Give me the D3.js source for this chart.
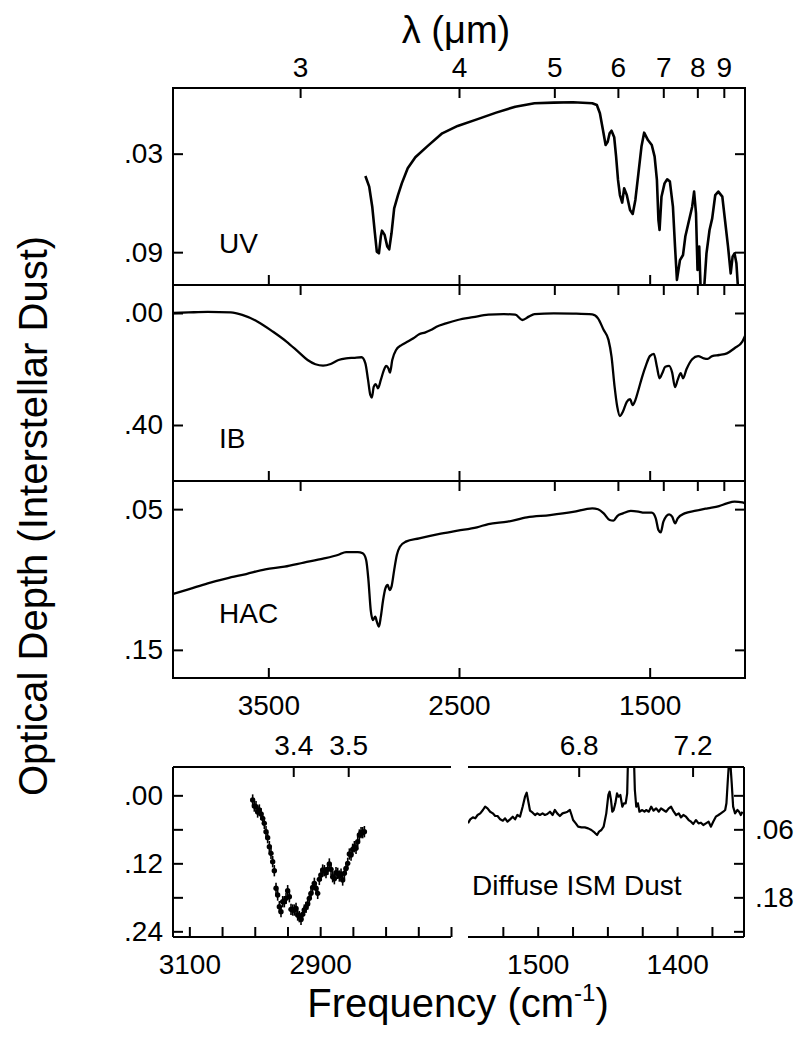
<!DOCTYPE html>
<html>
<head>
<meta charset="utf-8">
<script src="https://cdn.jsdelivr.net/npm/d3@7"></script>
<style>
body { margin:0; background:#fff; }
svg { font-family: "Liberation Sans", Arial, Helvetica, sans-serif; }
</style>
</head>
<body>
<svg id="graph"></svg>
<script>
// ---- data ----
var uvFreq = [2991,2971,2955,2941,2931,2920,2910,2904,2890,2876,2866,2854,2840,2820,2800,2769,2729,2668,2588,2507,2406,2305,2205,2104,2003,1902,1801,1777,1761,1745,1731,1720,1710,1700,1686,1676,1666,1656,1644,1634,1620,1603,1589,1575,1559,1543,1529,1509,1489,1474,1462,1454,1448,1438,1422,1408,1394,1378,1367,1357,1341,1325,1313,1297,1277,1267,1257,1249,1240,1232,1216,1202,1186,1172,1156,1140,1119,1105,1089,1075,1065,1055,1045,1035];
var uvDepth = [.0436,.0501,.0623,.0785,.0897,.0907,.0805,.0769,.0795,.0866,.0883,.0785,.0633,.0552,.0481,.0389,.0322,.0257,.0176,.0131,.0091,.0050,.0014,-.0007,-.0011,-.0013,-.0007,.0004,.0054,.0156,.0247,.0227,.0176,.0160,.0200,.0318,.0460,.0552,.0598,.0511,.0552,.0643,.0667,.0582,.0420,.0257,.0172,.0217,.0247,.0318,.0460,.0704,.0765,.0562,.0481,.0456,.0470,.0623,.0866,.1069,.0948,.0917,.0805,.0724,.0623,.0531,.0663,.1008,.0866,.1150,.1150,.0907,.0765,.0694,.0552,.0531,.0562,.0704,.0866,.1029,.0927,.0907,.0968,.1150];

var ibFreq = [4000,3919,3818,3697,3637,3556,3475,3405,3344,3294,3253,3213,3173,3132,3092,3052,3011,2991,2977,2965,2957,2947,2937,2925,2910,2894,2882,2870,2862,2850,2830,2800,2769,2739,2709,2679,2648,2618,2568,2507,2426,2346,2265,2205,2168,2134,2104,2003,1902,1801,1771,1741,1716,1700,1684,1670,1656,1640,1620,1603,1589,1575,1559,1539,1519,1499,1478,1462,1448,1434,1418,1398,1382,1367,1353,1337,1325,1307,1277,1246,1216,1196,1172,1136,1095,1055,1014,1000];
var ibDepth = [0.000,-0.002,-0.004,-0.002,0.007,0.031,0.067,0.102,0.138,0.168,0.183,0.188,0.182,0.168,0.162,0.160,0.158,0.180,0.239,0.293,0.302,0.263,0.254,0.269,0.239,0.204,0.189,0.198,0.213,0.168,0.132,0.114,0.102,0.090,0.076,0.070,0.061,0.049,0.037,0.025,0.015,0.006,0.004,0.006,0.025,0.013,0.004,0.001,0.002,0.005,0.019,0.061,0.096,0.156,0.263,0.335,0.368,0.352,0.317,0.308,0.329,0.311,0.275,0.227,0.186,0.154,0.146,0.192,0.233,0.215,0.192,0.189,0.213,0.265,0.239,0.215,0.233,0.201,0.165,0.154,0.162,0.164,0.154,0.150,0.144,0.126,0.102,0.082];

var hacFreq = [4000,3919,3818,3717,3616,3516,3415,3314,3213,3132,3092,3031,3005,2987,2975,2963,2951,2939,2931,2920,2910,2898,2886,2874,2864,2854,2840,2826,2810,2779,2709,2608,2507,2406,2346,2245,2144,2023,1902,1801,1771,1741,1710,1690,1670,1640,1599,1559,1529,1489,1468,1454,1442,1428,1398,1382,1366,1353,1317,1257,1196,1136,1095,1055,1014,1000];
var hacDepth = [.1103,.1070,.1027,.0992,.0961,.0928,.0909,.0880,.0852,.0824,.0805,.0805,.0814,.0861,.1004,.1217,.1288,.1264,.1300,.1335,.1264,.1146,.1063,.1039,.1075,.1051,.0933,.0826,.0767,.0731,.0707,.0677,.0653,.0629,.0606,.0589,.0558,.0542,.0520,.0494,.0501,.0530,.0577,.0582,.0549,.0530,.0513,.0518,.0525,.0525,.0565,.0648,.0665,.0589,.0537,.0553,.0601,.0565,.0530,.0511,.0494,.0478,.0459,.0447,.0452,.0459];

// diffuse ISM, C-H stretch region (points with error bars)
var chFreq = [3003.2,3000.7,2998.1,2995.6,2993.0,2990.5,2987.9,2985.4,2982.8,2980.3,2977.7,2975.2,2972.6,2970.1,2967.5,2965.0,2962.4,2959.9,2957.3,2954.8,2952.2,2949.7,2947.1,2944.6,2942.0,2939.5,2936.9,2934.4,2931.9,2929.3,2926.8,2924.2,2921.7,2919.1,2916.6,2914.0,2911.5,2908.9,2906.4,2903.8,2901.3,2898.7,2896.2,2893.6,2891.1,2888.5,2886.0,2883.4,2880.9,2878.3,2875.8,2873.2,2870.7,2868.1,2865.6,2863.0,2860.5,2857.9,2855.4,2852.8,2850.3,2847.7,2845.2,2842.6,2840.1,2837.5,2835.0,2832.4];
var chDepth = [.0083,.0189,.0200,.0294,.0259,.0330,.0406,.0494,.0641,.0747,.0906,.1024,.1171,.1330,.1641,.1759,.1965,.2053,.1877,.1877,.1818,.1683,.1789,.2012,.2024,.2024,.1994,.2112,.2141,.2189,.2100,.2024,.1977,.1918,.1818,.1730,.1624,.1553,.1641,.1730,.1483,.1406,.1318,.1330,.1365,.1306,.1212,.1306,.1436,.1471,.1365,.1377,.1424,.1389,.1494,.1377,.1289,.1200,.1036,.1053,.0953,.0906,.0936,.0818,.0700,.0659,.0659,.0641];
var chError = 0.010;

// diffuse ISM, 6-7 micron region
var ccFreq = [1550.0,1548.4,1546.5,1544.8,1543.1,1541.2,1539.3,1537.7,1536.0,1534.1,1532.2,1530.5,1528.8,1526.9,1525.0,1523.4,1521.7,1519.8,1517.9,1516.2,1514.6,1512.7,1510.8,1509.1,1507.9,1506.7,1505.5,1503.6,1501.9,1500.3,1498.4,1496.5,1494.8,1493.1,1491.2,1489.3,1487.7,1486.0,1484.1,1482.2,1480.5,1478.6,1476.9,1475.7,1474.6,1472.7,1471.0,1468.6,1466.2,1463.8,1461.5,1459.1,1457.4,1456.0,1454.3,1452.7,1450.8,1449.3,1448.4,1447.4,1446.5,1445.5,1444.3,1443.1,1442.0,1440.7,1439.3,1438.1,1436.9,1435.8,1435.0,1431.2,1430.3,1429.3,1428.1,1427.0,1425.0,1423.4,1422.2,1420.3,1418.6,1416.9,1415.0,1413.1,1411.5,1409.8,1407.9,1406.0,1404.3,1402.4,1400.7,1398.8,1397.2,1395.5,1393.6,1391.7,1390.0,1388.4,1386.5,1384.6,1382.9,1381.2,1379.3,1377.4,1375.7,1374.1,1372.2,1370.3,1368.6,1366.9,1365.5,1364.6,1363.6,1362.9,1361.7,1360.8,1359.8,1358.4,1356.7,1355.5,1354.3,1353.1];
var ccDepth = [.0494,.0424,.0389,.0406,.0347,.0318,.0259,.0200,.0230,.0289,.0318,.0365,.0365,.0424,.0447,.0406,.0465,.0424,.0377,.0424,.0347,.0377,.0200,.0024,-.0047,.0112,.0271,.0306,.0347,.0318,.0347,.0318,.0347,.0330,.0289,.0347,.0259,.0318,.0365,.0318,.0306,.0289,.0259,.0347,.0436,.0494,.0553,.0565,.0565,.0583,.0612,.0659,.0700,.0641,.0612,.0553,.0318,-.0006,-.0064,.0083,.0289,.0259,.0141,-.0035,.0024,-.0006,.0200,.0141,.0141,-.0035,-.0859,-.0859,-.0094,.0200,.0141,.0289,.0259,.0289,.0259,.0289,.0200,.0271,.0230,.0289,.0230,.0259,.0289,.0230,.0200,.0289,.0347,.0318,.0389,.0347,.0377,.0436,.0465,.0506,.0436,.0494,.0483,.0524,.0494,.0465,.0553,.0465,.0377,.0347,.0318,.0289,.0259,.0141,-.0270,-.0535,-.0535,-.0211,.0200,.0318,.0259,.0289,.0347,.0289];

// ---- ticks ----
var wavelengthTicks = [3,4,5,6,7,8,9];
var freqTicks = [3500,2500,1500];
var uvTicks = [0.03,0.09];
var ibTicks = [0.00,0.40];
var hacTicks = [0.05,0.15];
var chWaveTicks = [3.4,3.5];
var ccWaveTicks = [6.8,7.2];
var chFreqTicks = [3100,3050,3000,2950,2900,2850,2800,2750,2700];
var chFreqLabels = [3100,2900];
var ccFreqTicks = [1525,1500,1475,1450,1425,1400,1375];
var ccFreqLabels = [1500,1400];
var lowerTicks = [0.00,0.06,0.12,0.18,0.24];
var lowerLeftLabels = [0.00,0.12,0.24];
var lowerRightLabels = [0.06,0.18];

var fontFamily = '"Liberation Sans", Arial, Helvetica, sans-serif';
var screen = {width:797, height:1038};
var tickLen = 10;

var fmtDepth = function(d)
{
    return d3.format(".2f")(d).replace(/^0/, "");
}
var toFreq = function(um) { return 1e4/um; }

var svg = d3.select("#graph")
    .attr("width", screen.width)
    .attr("height", screen.height);

var styleAxis = function(g, size)
{
    g.select(".domain").remove();
    g.attr("font-family", fontFamily)
        .attr("font-size", size);
    g.selectAll(".tick line")
        .attr("stroke", "#000")
        .attr("stroke-width", 2);
    g.selectAll(".tick text")
        .attr("fill", "#000");
}

var topX = d3.scaleLinear().domain([4000,1000]).range([173,745]);

var panels = [
    {name:"UV", freq:uvFreq, depth:uvDepth, domain:[-0.01,0.11], top:88, bottom:285, ticks:uvTicks, labelY:253, curve:d3.curveLinear, width:2.6},
    {name:"IB", freq:ibFreq, depth:ibDepth, domain:[-0.1,0.6], top:285, bottom:481, ticks:ibTicks, labelY:448, curve:d3.curveMonotoneX, width:2.3},
    {name:"HAC", freq:hacFreq, depth:hacDepth, domain:[0.03,0.17], top:481, bottom:678, ticks:hacTicks, labelY:623, curve:d3.curveMonotoneX, width:2.3}
];

var drawTopPanel = function(panel, index)
{
    var y = d3.scaleLinear().domain(panel.domain).range([panel.top, panel.bottom]);
    var x0 = topX.range()[0], x1 = topX.range()[1];

    var clipId = "clip" + index;
    svg.append("clipPath").attr("id", clipId)
        .append("rect")
        .attr("x", x0).attr("y", panel.top)
        .attr("width", x1-x0).attr("height", panel.bottom-panel.top);

    var line = d3.line()
        .curve(panel.curve)
        .x(function(d,i){ return topX(panel.freq[i]); })
        .y(function(d){ return y(d); });

    svg.append("path")
        .datum(panel.depth)
        .attr("clip-path", "url(#"+clipId+")")
        .attr("fill", "none")
        .attr("stroke", "#000")
        .attr("stroke-width", panel.width)
        .attr("stroke-linejoin", "round")
        .attr("d", line);

    // wavelength ticks on top
    var topAxis = d3.axisTop(topX)
        .tickValues(wavelengthTicks.map(toFreq))
        .tickSizeInner(-tickLen).tickSizeOuter(0).tickPadding(11)
        .tickFormat(function(d){ return index == 0 ? Math.round(1e4/d) : ""; });
    svg.append("g")
        .attr("transform", "translate(0,"+panel.top+")")
        .call(topAxis)
        .call(styleAxis, 28);

    var bottomAxis = d3.axisBottom(topX)
        .tickValues(freqTicks)
        .tickSizeInner(-tickLen).tickSizeOuter(0).tickPadding(17)
        .tickFormat(function(d){ return index == panels.length-1 ? d : ""; });
    svg.append("g")
        .attr("transform", "translate(0,"+panel.bottom+")")
        .call(bottomAxis)
        .call(styleAxis, 28);

    svg.append("g")
        .attr("transform", "translate("+x0+",0)")
        .call(d3.axisLeft(y).tickValues(panel.ticks).tickSizeInner(-tickLen).tickSizeOuter(0).tickPadding(10).tickFormat(fmtDepth))
        .call(styleAxis, 28);

    svg.append("g")
        .attr("transform", "translate("+x1+",0)")
        .call(d3.axisRight(y).tickValues(panel.ticks).tickSizeInner(-tickLen).tickSizeOuter(0).tickFormat(""))
        .call(styleAxis, 28);

    svg.append("rect")
        .attr("x", x0).attr("y", panel.top)
        .attr("width", x1-x0).attr("height", panel.bottom-panel.top)
        .attr("fill", "none")
        .attr("stroke", "#000")
        .attr("stroke-width", 2);

    svg.append("text")
        .text(panel.name)
        .attr("x", 219)
        .attr("y", panel.labelY)
        .attr("font-size", 28)
        .attr("font-family", fontFamily);
}

panels.forEach(drawTopPanel);

// ---- lower panels: diffuse ISM dust ----
var lowerY = d3.scaleLinear().domain([-0.05,0.25]).range([767,937]);
var chX = d3.scaleLinear().domain([3125,2700]).range([173,451]);
var ccX = d3.scaleLinear().domain([1550,1352]).range([468,744]);

var drawLowerAxes = function(x, waveTicks, fTicks, fLabels)
{
    var top = lowerY.range()[0], bottom = lowerY.range()[1];
    svg.append("g")
        .attr("transform", "translate(0,"+top+")")
        .call(d3.axisTop(x).tickValues(waveTicks.map(toFreq))
            .tickSizeInner(-tickLen).tickSizeOuter(0).tickPadding(12)
            .tickFormat(function(d){ return d3.format(".1f")(1e4/d); }))
        .call(styleAxis, 28);
    svg.append("g")
        .attr("transform", "translate(0,"+bottom+")")
        .call(d3.axisBottom(x).tickValues(fTicks)
            .tickSizeInner(-tickLen).tickSizeOuter(0).tickPadding(17)
            .tickFormat(function(d){ return fLabels.indexOf(d) >= 0 ? d : ""; }))
        .call(styleAxis, 28);
    [top, bottom].forEach(function(yy)
    {
        svg.append("line")
            .attr("x1", x.range()[0]).attr("x2", x.range()[1])
            .attr("y1", yy).attr("y2", yy)
            .attr("stroke", "#000").attr("stroke-width", 2);
    });
}

drawLowerAxes(chX, chWaveTicks, chFreqTicks, chFreqLabels);
drawLowerAxes(ccX, ccWaveTicks, ccFreqTicks, ccFreqLabels);

// left axis of the C-H panel
svg.append("g")
    .attr("transform", "translate(173,0)")
    .call(d3.axisLeft(lowerY).tickValues(lowerTicks).tickSizeInner(-tickLen).tickSizeOuter(0).tickPadding(10)
        .tickFormat(function(d){ return lowerLeftLabels.indexOf(d) >= 0 ? fmtDepth(d) : ""; }))
    .call(styleAxis, 28);
svg.append("line")
    .attr("x1", 173).attr("x2", 173)
    .attr("y1", 767).attr("y2", 937)
    .attr("stroke", "#000").attr("stroke-width", 2);

// right axis of the 6-7 micron panel
svg.append("g")
    .attr("transform", "translate(744,0)")
    .call(d3.axisRight(lowerY).tickValues(lowerTicks).tickSizeInner(-tickLen).tickSizeOuter(0).tickPadding(11)
        .tickFormat(function(d){ return lowerRightLabels.indexOf(d) >= 0 ? fmtDepth(d) : ""; }))
    .call(styleAxis, 28);
svg.append("line")
    .attr("x1", 744).attr("x2", 744)
    .attr("y1", 767).attr("y2", 937)
    .attr("stroke", "#000").attr("stroke-width", 2);

// C-H points with error bars
var chPoints = svg.append("g").selectAll("g")
    .data(chDepth)
    .enter()
    .append("g");
chPoints.append("line")
    .attr("x1", function(d,i){ return chX(chFreq[i]); })
    .attr("x2", function(d,i){ return chX(chFreq[i]); })
    .attr("y1", function(d){ return lowerY(d-chError); })
    .attr("y2", function(d){ return lowerY(d+chError); })
    .attr("stroke", "#000")
    .attr("stroke-width", 1.6);
chPoints.append("circle")
    .attr("cx", function(d,i){ return chX(chFreq[i]); })
    .attr("cy", function(d){ return lowerY(d); })
    .attr("r", 2.7)
    .attr("fill", "#000");

// 6-7 micron trace
svg.append("clipPath").attr("id", "clipcc")
    .append("rect")
    .attr("x", 468).attr("y", 767)
    .attr("width", 744-468).attr("height", 937-767);
svg.append("path")
    .datum(ccDepth)
    .attr("clip-path", "url(#clipcc)")
    .attr("fill", "none")
    .attr("stroke", "#000")
    .attr("stroke-width", 2.2)
    .attr("stroke-linejoin", "round")
    .attr("d", d3.line()
        .x(function(d,i){ return ccX(ccFreq[i]); })
        .y(function(d){ return lowerY(d); }));

svg.append("text")
    .text("Diffuse ISM Dust")
    .attr("x", 472)
    .attr("y", 895)
    .attr("font-size", 28)
    .attr("font-family", fontFamily);

// ---- titles ----
svg.append("text")
    .text("λ (μm)")
    .attr("x", 456)
    .attr("y", 43)
    .attr("text-anchor", "middle")
    .attr("font-size", 38)
    .attr("font-family", fontFamily);

svg.append("g")
    .attr("transform", "translate(47,516)")
    .append("text")
    .text("Optical Depth (Interstellar Dust)")
    .attr("transform", "rotate(-90)")
    .attr("text-anchor", "middle")
    .attr("font-size", 40)
    .attr("font-family", fontFamily);

var xTitle = svg.append("text")
    .attr("x", 458)
    .attr("y", 1017)
    .attr("text-anchor", "middle")
    .attr("font-size", 40)
    .attr("font-family", fontFamily);
xTitle.append("tspan").text("Frequency (cm");
xTitle.append("tspan").text("-1").attr("font-size", 24).attr("dy", -16);
xTitle.append("tspan").text(")").attr("dy", 16);
</script>
</body>
</html>
